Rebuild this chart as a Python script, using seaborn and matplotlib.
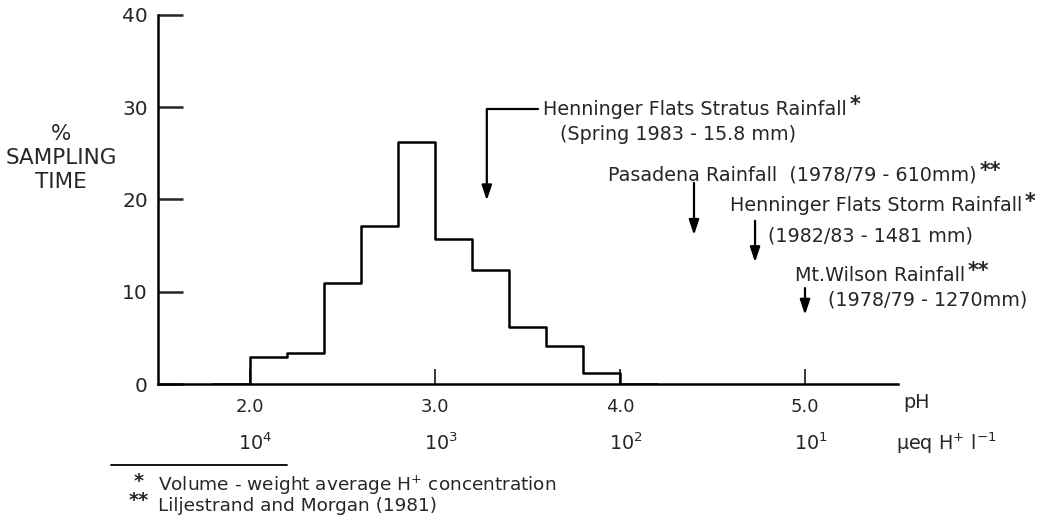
import numpy as np
import pandas as pd
import seaborn as sns
import matplotlib
matplotlib.use("Agg")
import matplotlib.pyplot as plt
from matplotlib import transforms
from matplotlib.lines import Line2D

# ---- data ----
bin_edges = [1.8, 2.0, 2.2, 2.4, 2.6, 2.8, 3.0, 3.2, 3.4, 3.6, 3.8, 4.0, 4.2]
pct_time = [0.0, 2.9, 3.4, 11.0, 17.1, 26.2, 15.7, 12.4, 6.2, 4.1, 1.2, 0.0]
ph_ticks = [2.0, 3.0, 4.0, 5.0]
ph_labels = ["2.0", "3.0", "4.0", "5.0"]
conc_labels = [r"$10^4$", r"$10^3$", r"$10^2$", r"$10^1$"]
y_ticks = [0, 10, 20, 30, 40]
rain_ph = [3.28, 4.40, 4.73, 5.0]
rain_names = [
    "Henninger Flats Stratus Rainfall",
    "Pasadena Rainfall  (1978/79 - 610mm)",
    "Henninger Flats Storm Rainfall",
    "Mt.Wilson Rainfall",
]
rain_stars = ["*", "**", "*", "**"]
rain_sub = ["(Spring 1983 - 15.8 mm)", None, "(1982/83 - 1481 mm)", "(1978/79 - 1270mm)"]

centers = [(a + b) / 2 for a, b in zip(bin_edges[:-1], bin_edges[1:])]
df = pd.DataFrame({"ph": centers, "pct": pct_time})

sns.set_style("white")
plt.rcParams["font.family"] = ["DejaVu Sans"]
plt.rcParams["mathtext.default"] = "regular"
FS = 13.8

fig = plt.figure(figsize=(10.49, 5.20), dpi=100)
W, H = 1049, 520
ax = fig.add_axes([157.5 / W, (H - 384) / H, 740 / W, 369 / H])

sns.histplot(data=df, x="ph", weights="pct", bins=bin_edges, element="step",
             fill=False, color="black", linewidth=1.8, ax=ax)

ax.set_xlim(1.5, 5.5)
ax.set_ylim(0, 40)
for s in ["top", "right"]:
    ax.spines[s].set_visible(False)
for s in ["left", "bottom"]:
    ax.spines[s].set_linewidth(1.8)
    ax.spines[s].set_color("black")
ax.set_xticks(ph_ticks)
ax.set_xticklabels(ph_labels, fontsize=13)
ax.set_yticks(y_ticks)
ax.set_yticklabels([str(v) for v in y_ticks], fontsize=14.5)
ax.tick_params(axis="y", direction="in", length=18, width=1.8, pad=7, left=True)
ax.tick_params(axis="x", direction="in", length=11, width=1.3, pad=10, bottom=True)
ax.set_xlabel("")
ax.set_ylabel("")

# y label
fig.text(61 / W, 1 - 158 / H, "%\nSAMPLING\nTIME", ha="center", va="center",
         fontsize=15.5, linespacing=1.25)

# secondary labels
tr = transforms.blended_transform_factory(ax.transData, fig.transFigure)
ax.text(5.53, 1 - 403 / H, "pH", transform=tr, ha="left", va="center", fontsize=FS)
for x, lab in zip(ph_ticks, conc_labels):
    ax.text(x + 0.03, 1 - 443 / H, lab, transform=tr, ha="center", va="center", fontsize=FS)
ax.text(5.49, 1 - 443 / H, r"$\mu$eq H$^{+}$ l$^{-1}$", transform=tr, ha="left",
        va="center", fontsize=FS)

# annotations
akw = dict(arrowstyle="-|>,head_length=0.9,head_width=0.3", color="black", lw=1.6,
           shrinkA=0, shrinkB=0)


def label(x, y, s, stars=None):
    t = ax.text(x, y, s, ha="left", va="center", fontsize=FS)
    if stars:
        ax.annotate(stars, xy=(1, 1), xycoords=t, xytext=(2, -4), textcoords="offset points",
                    ha="left", va="center", fontsize=FS + 1, fontweight="bold")
    return t


# Stratus
ax.plot([rain_ph[0], 3.557], [29.8, 29.8], color="black", lw=1.6)
ax.annotate("", xy=(rain_ph[0], 19.9), xytext=(rain_ph[0], 29.8), arrowprops=akw)
label(3.584, 29.8, rain_names[0], rain_stars[0])
label(3.676, 27.0, rain_sub[0])
# Pasadena
ax.annotate("", xy=(rain_ph[1], 16.15), xytext=(rain_ph[1], 21.8), arrowprops=akw)
label(3.935, 22.7, rain_names[1], rain_stars[1])
# Storm
ax.annotate("", xy=(rain_ph[2], 13.2), xytext=(rain_ph[2], 17.7), arrowprops=akw)
label(4.595, 19.3, rain_names[2], rain_stars[2])
label(4.80, 16.04, rain_sub[2])
# Mt Wilson
ax.annotate("", xy=(rain_ph[3], 7.5), xytext=(rain_ph[3], 10.4), arrowprops=akw)
label(4.946, 11.8, rain_names[3], rain_stars[3])
label(5.124, 9.1, rain_sub[3])

# footnotes
fig.add_artist(Line2D([111 / W, 287 / W], [1 - 465 / H, 1 - 465 / H], color="black", lw=1.3))
fig.text(139 / W, 1 - 491 / H, "*\n**", ha="center", va="center", ma="center",
         fontsize=FS, fontweight="bold", linespacing=0.98)
fig.text(158 / W, 1 - 494 / H,
         "Volume - weight average H$^{+}$ concentration\nLiljestrand and Morgan (1981)",
         ha="left", va="center", fontsize=13.3, linespacing=0.98)

fig.savefig("out.png", dpi=100)
